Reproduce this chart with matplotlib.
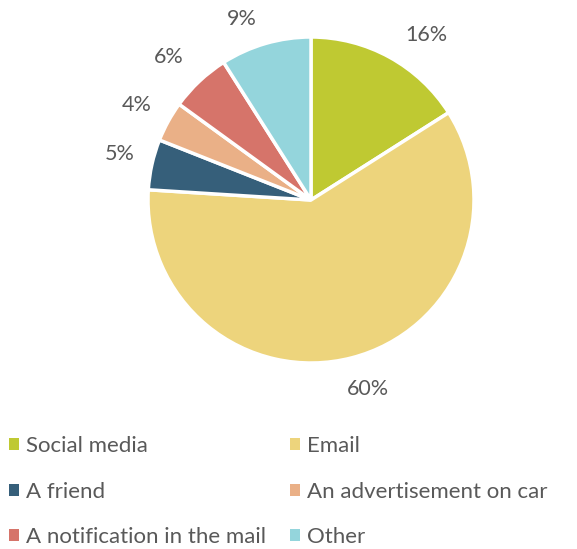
import matplotlib.pyplot as plt
from matplotlib.patches import Patch
from matplotlib.transforms import offset_copy

labels = ["Social media", "Email", "A friend", "An advertisement on car",
          "A notification in the mail", "Other"]
shares = [16, 60, 5, 4, 6, 9]
colors = ["#BFC932", "#EDD47C", "#365F7A", "#EAB087", "#D6746A", "#94D5DC"]

# small per-label nudges (pixels, x right / y up) for the outside percentages
label_nudge = [(21, -6), (8, 0), (0, 3), (-3, 1), (-8, 0), (-15, -7)]

plt.rcParams['font.family'] = ['Lato', 'DejaVu Sans']
text_color = "#595959"

W, H = 577, 549
fig = plt.figure(figsize=(W / 100, H / 100), dpi=100)

# pie centre and radius in pixels
cx, cy, r = 311, 200, 163
ax = fig.add_axes([(cx - r) / W, (H - cy - r) / H, 2 * r / W, 2 * r / H])
wedges, texts = ax.pie(
    shares, colors=colors, startangle=90, counterclock=False, radius=1,
    labels=[f"{v}%" for v in shares], labeldistance=1.2,
    wedgeprops=dict(edgecolor="white", linewidth=2.5),
    textprops=dict(color=text_color, fontsize=15.5),
)
for t, (dx, dy) in zip(texts, label_nudge):
    t.set_clip_on(False)
    t.set_horizontalalignment("center")
    t.set_verticalalignment("center")
    t.set_transform(offset_copy(ax.transData, fig=fig, x=dx, y=dy, units="dots"))
ax.set_xlim(-1, 1)
ax.set_ylim(-1, 1)
ax.set_aspect("equal")
ax.axis("off")

handles = [Patch(facecolor=c, edgecolor="none") for c in colors]
# row-major order: two columns
order = [0, 2, 4, 1, 3, 5]
fig.legend([handles[i] for i in order], [labels[i] for i in order],
           ncol=2, loc="upper left", bbox_to_anchor=(9 / W, 1 - 436 / H),
           frameon=False, fontsize=16, labelcolor=text_color,
           handlelength=0.45, handleheight=0.45, handletextpad=0.3,
           labelspacing=1.15, columnspacing=1.11, borderaxespad=0, borderpad=0)

fig.savefig("out.png", dpi=100)
